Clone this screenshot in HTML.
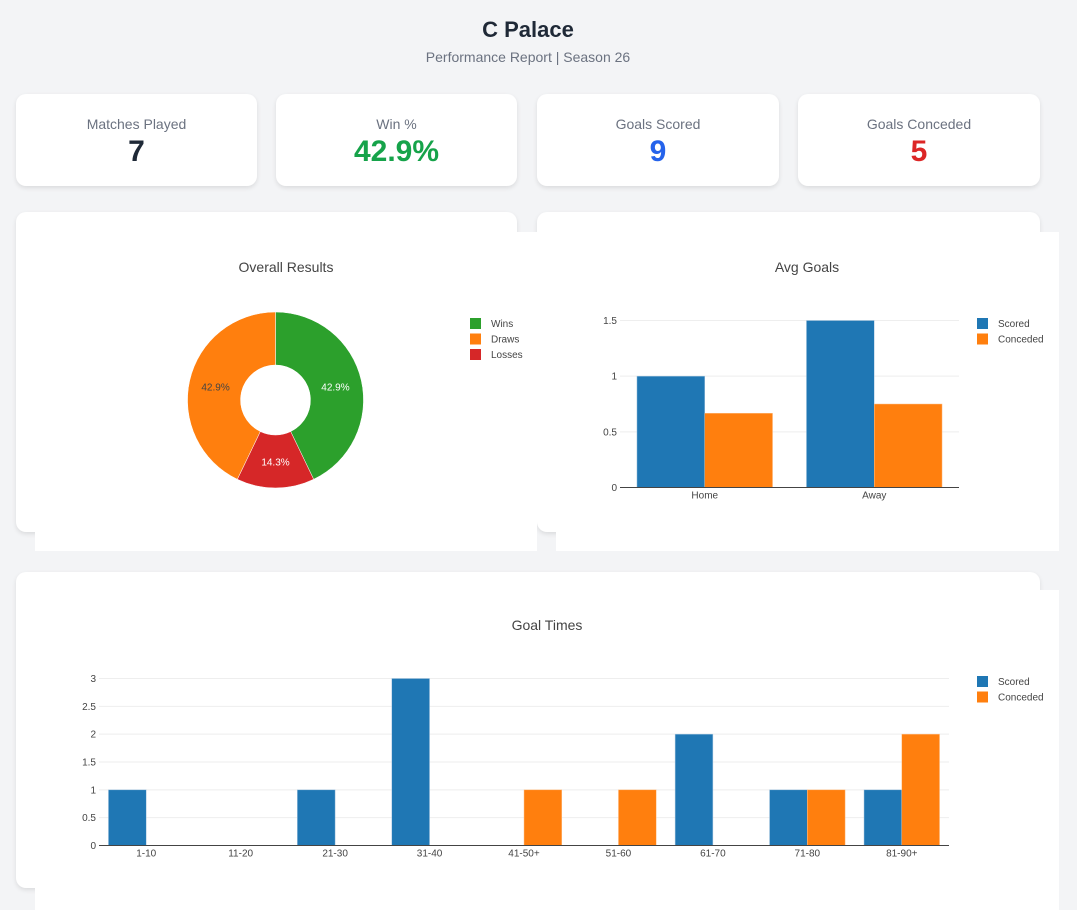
<!DOCTYPE html>
<html><head><meta charset="utf-8">
<style>
body{margin:0;width:1077px;height:910px;background:#f3f4f6;font-family:"Liberation Sans",Arial,sans-serif;position:relative;overflow:hidden}
.h1{position:absolute;left:0;width:1056px;top:17px;text-align:center;font-size:22px;font-weight:bold;color:#1f2937}
.sub{position:absolute;left:0;width:1056px;top:49px;text-align:center;font-size:14px;color:#6b7280}
.card{position:absolute;top:94px;height:92px;width:241px;background:#fff;border-radius:10px;box-shadow:0 2px 5px rgba(0,0,0,.1);text-align:center}
.card .l{margin-top:22px;font-size:14px;color:#6b7280}
.card .v{font-size:30px;font-weight:bold;margin-top:3px}
.panel{position:absolute;background:#fff;border-radius:10px;box-shadow:0 2px 5px rgba(0,0,0,.1)}
.plot{position:absolute;background:#fff}
svg text{font-family:"Liberation Sans",Arial,sans-serif}
</style></head><body>
<div class="h1">C Palace</div>
<div class="sub">Performance Report | Season 26</div>
<div class="card" style="left:16px"><div class="l">Matches Played</div><div class="v" style="color:#1f2937">7</div></div>
<div class="card" style="left:276px"><div class="l">Win %</div><div class="v" style="color:#16a34a">42.9%</div></div>
<div class="card" style="left:537px;width:242px"><div class="l">Goals Scored</div><div class="v" style="color:#2563eb">9</div></div>
<div class="card" style="left:798px;width:242px"><div class="l">Goals Conceded</div><div class="v" style="color:#dc2626">5</div></div>

<div class="panel" style="left:16px;top:212px;width:501px;height:320px"></div>
<div class="panel" style="left:537px;top:212px;width:503px;height:320px"></div>
<div class="panel" style="left:16px;top:572px;width:1024px;height:316px"></div>

<div class="plot" style="left:35px;top:232px;width:502px;height:319px"></div>
<div class="plot" style="left:556px;top:232px;width:503px;height:319px"></div>
<div class="plot" style="left:35px;top:590px;width:1024px;height:320px"></div>

<svg id="s" width="1077" height="910" style="position:absolute;left:0;top:0"></svg>
<script>
const pieLabels=["Wins","Draws","Losses"];
const pieValues=[3,3,1];
const avgCats=["Home","Away"];
const avgScored=[1,1.5];
const avgConceded=[0.667,0.75];
const avgTicks=[0,0.5,1,1.5];
const gtCats=["1-10","11-20","21-30","31-40","41-50+","51-60","61-70","71-80","81-90+"];
const gtScored=[1,0,1,3,0,0,2,1,1];
const gtConceded=[0,0,0,0,1,1,0,1,2];
const gtTicks=[0,0.5,1,1.5,2,2.5,3];

const BLUE="#1f77b4",ORANGE="#ff7f0e",GREEN="#2ca02c",RED="#d62728";
const svg=document.getElementById('s');
const NS="http://www.w3.org/2000/svg";
function mk(tag,attrs,txt){const e=document.createElementNS(NS,tag);for(const k in attrs)e.setAttribute(k,attrs[k]);if(txt!==undefined)e.textContent=txt;svg.appendChild(e);return e;}

function title(x,y,t,name){const e=mk('text',{x:x,y:y,'text-anchor':'middle','font-size':14,fill:'#444'},t);

}
title(286,272,"Overall Results","results-title");
title(807,272,"Avg Goals","avg-goals-title");
title(547,630,"Goal Times","goal-times-title");

function legend(x,y,items,cols,prefix){items.forEach((t,i)=>{
const r=mk('rect',{x:x,y:y+i*15.5-5,width:11,height:11,fill:cols[i]});


const tx=mk('text',{x:x+21,y:y+i*15.5+4,'font-size':10,fill:'#444'},t);

});}

// Pie
(function(){const cx=275.5,cy=400,R=88,r=35;const tot=pieValues.reduce((a,b)=>a+b,0);
const cols=[GREEN,ORANGE,RED];
const order=[0,2,1];let a=0;
order.forEach(i=>{const f=pieValues[i]/tot;const a0=a,a1=a+f*2*Math.PI;a=a1;
const p=(ang,rad)=>[cx+rad*Math.sin(ang),cy-rad*Math.cos(ang)];
const large=(a1-a0)>Math.PI?1:0;
const [x0,y0]=p(a0,R),[x1,y1]=p(a1,R),[x2,y2]=p(a1,r),[x3,y3]=p(a0,r);
const s=mk('path',{d:`M${x0},${y0}A${R},${R} 0 ${large} 1 ${x1},${y1}L${x2},${y2}A${r},${r} 0 ${large} 0 ${x3},${y3}Z`,fill:cols[i],stroke:'#fff','stroke-width':0.5});


const m=(a0+a1)/2;const [lx,ly]=p(m,(R+r)/2);
const t=mk('text',{x:lx,y:ly+4,'text-anchor':'middle','font-size':10,fill:i==1?'#444':'#fff'},(f*100).toFixed(1)+'%');

});
legend(470,323,pieLabels,cols,'results');})();

function barChart(o){const {x0,x1,y0,yTop,max,cats,s1,s2,ticks,prefix,fs}=o;
const Y=v=>y0-(v/max)*(y0-yTop);const step=(x1-x0)/cats.length;
ticks.forEach(t=>{if(t>0){const g=mk('line',{x1:x0,x2:x1,y1:Y(t),y2:Y(t),stroke:'#eee','stroke-width':1});

}
const tl=mk('text',{x:x0-3,y:Y(t)+3.5,'text-anchor':'end','font-size':fs,fill:'#444'},String(t));

});
const bw=step*0.8/2;
cats.forEach((c,i)=>{const cx=x0+step*(i+0.5);
[[s1[i],BLUE,'scored',cx-bw],[s2[i],ORANGE,'conceded',cx]].forEach(([v,col,n,bx])=>{if(v>0){
const b=mk('rect',{x:bx,y:Y(v),width:bw,height:y0-Y(v),fill:col,stroke:col==BLUE?'#a9c7e0':'#ffc48f','stroke-width':0.5});

}});
const tl=mk('text',{x:cx,y:y0+11,'text-anchor':'middle','font-size':fs,fill:'#444'},c);

});
const ax=mk('line',{x1:x0,x2:x1,y1:y0,y2:y0,stroke:'#444','stroke-width':1});

}

barChart({x0:620,x1:959,y0:487.5,yTop:320.5,max:1.5,cats:avgCats,s1:avgScored,s2:avgConceded,ticks:avgTicks,prefix:'avg-goals',fs:10});
legend(977,323,["Scored","Conceded"],[BLUE,ORANGE],'avg-goals');
barChart({x0:99,x1:949,y0:845.5,yTop:678.5,max:3,cats:gtCats,s1:gtScored,s2:gtConceded,ticks:gtTicks,prefix:'goal-times',fs:10});
legend(977,681,["Scored","Conceded"],[BLUE,ORANGE],'goal-times');
</script>
</body></html>
